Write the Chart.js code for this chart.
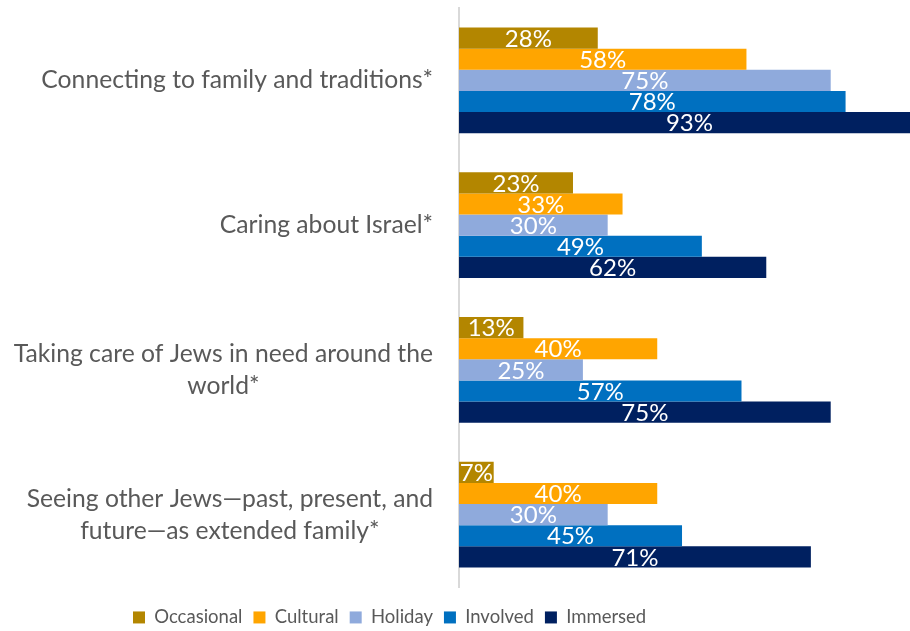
<!DOCTYPE html>
<html>
<head>
<meta charset="utf-8">
<script src="https://cdn.jsdelivr.net/npm/chart.js@4.4.1/dist/chart.umd.min.js"></script>
<style>
  html, body { margin: 0; padding: 0; background: #fff; }
  #wrap { width: 910px; height: 631px; }
</style>
</head>
<body>
<div id="wrap"><canvas id="valuesChart"></canvas></div>
<script>
// Categories (multi-line labels) and the five engagement groups
const categories = [
    ['Connecting to family and traditions*'],
    ['Caring about Israel*'],
    ['Taking care of Jews in need around the', 'world*'],
    ['Seeing other Jews\u2014past, present, and', 'future\u2014as extended family*']
];
const occasional = [28, 23, 13, 7];
const cultural   = [58, 33, 40, 40];
const holiday    = [75, 30, 25, 30];
const involved   = [78, 49, 57, 45];
const immersed   = [93, 62, 75, 71];

const seriesNames  = ['Occasional', 'Cultural', 'Holiday', 'Involved', 'Immersed'];
const seriesColors = ['#B38600', '#FFA500', '#8FAADC', '#0070C0', '#002060'];

const FONT = 'Lato, "Open Sans", sans-serif';
const GREY = '#595959';

// white percentage labels centred on each bar
const barLabels = {
    id: 'barLabels',
    afterDatasetsDraw(chart) {
        const ctx = chart.ctx;
        ctx.save();
        ctx.font = '24px ' + FONT;
        ctx.fillStyle = '#ffffff';
        ctx.textAlign = 'center';
        ctx.textBaseline = 'middle';
        chart.data.datasets.forEach((ds, i) => {
            chart.getDatasetMeta(i).data.forEach((bar, j) => {
                ctx.fillText(ds.data[j] + '%', (bar.x + bar.base) / 2, bar.y + 1);
            });
        });
        ctx.restore();
    }
};

// category names: each block right aligned, its lines centred within it
const categoryLabels = {
    id: 'categoryLabels',
    afterDraw(chart) {
        const ctx = chart.ctx;
        const yScale = chart.scales.y;
        const right = yScale.right - 26;
        const lineH = 32;
        ctx.save();
        ctx.font = '24.7px ' + FONT;
        ctx.fillStyle = GREY;
        ctx.textAlign = 'center';
        ctx.textBaseline = 'middle';
        categories.forEach((lines, i) => {
            const widest = Math.max(...lines.map(l => ctx.measureText(l).width));
            const cx = right - widest / 2;
            const cy = yScale.getPixelForTick(i);
            const top = cy - (lines.length - 1) * lineH / 2;
            lines.forEach((l, k) => ctx.fillText(l, cx, top + k * lineH));
        });
        ctx.restore();
    }
};

const data = [occasional, cultural, holiday, involved, immersed];

new Chart(document.getElementById('valuesChart'), {
    type: 'bar',
    data: {
        labels: categories,
        datasets: seriesNames.map((name, i) => ({
            label: name,
            data: data[i],
            backgroundColor: seriesColors[i],
            borderWidth: 0,
            categoryPercentage: 0.73,
            barPercentage: 1.0
        }))
    },
    options: {
        indexAxis: 'y',
        responsive: true,
        maintainAspectRatio: false,
        animation: false,
        layout: { padding: { left: 122, right: 0, top: 8, bottom: 0 } },
        scales: {
            x: {
                display: false,
                min: 0,
                max: 91
            },
            y: {
                grid: { display: false },
                border: { display: true, color: '#d9d9d9', width: 2 },
                ticks: { display: false },
                afterFit(scale) { scale.width = 337; }
            }
        },
        plugins: {
            tooltip: { enabled: false },
            legend: {
                position: 'bottom',
                align: 'start',
                maxHeight: 44,
                title: { display: true, text: '', font: { size: 1 }, padding: { top: 9, bottom: 0 } },
                labels: {
                    boxWidth: 12,
                    boxHeight: 12,
                    padding: 11,
                    color: GREY,
                    font: { family: FONT, size: 18.5 }
                }
            }
        }
    },
    plugins: [barLabels, categoryLabels]
});
</script>
</body>
</html>
